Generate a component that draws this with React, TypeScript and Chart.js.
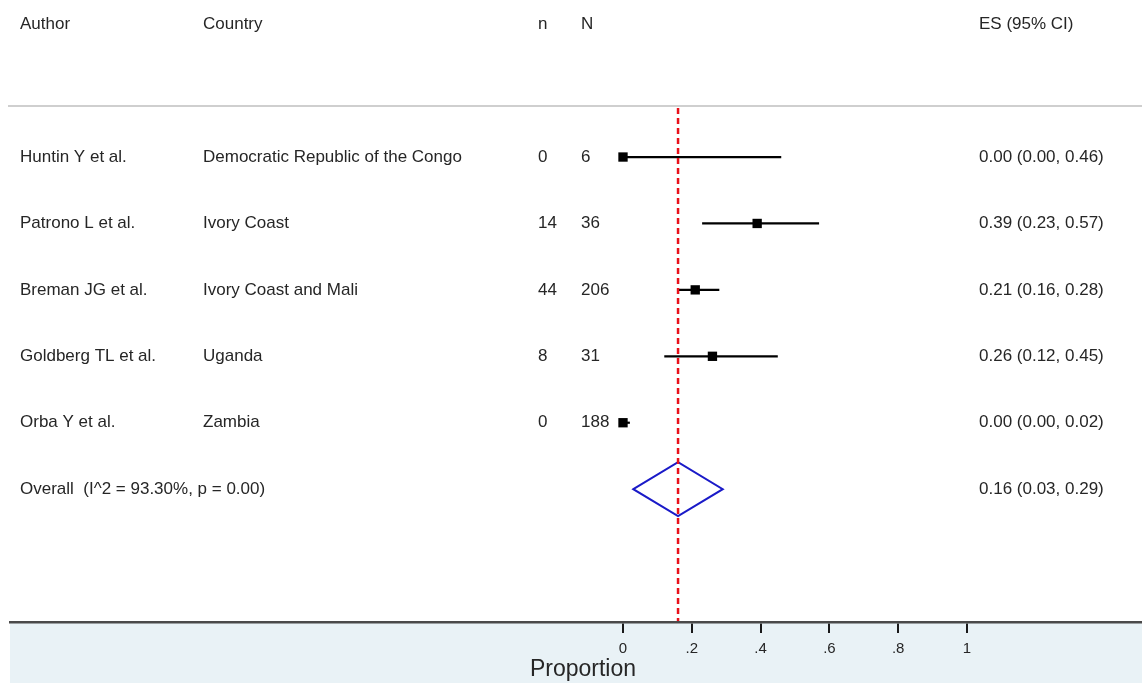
import React, { useEffect, useRef } from "react";
import { Chart, registerables } from "chart.js";

Chart.register(...registerables);

const HEADERS = ["Author", "Country", "n", "N", "ES (95% CI)"];
const AUTHORS = ["Huntin Y et al.", "Patrono L et al.", "Breman JG et al.", "Goldberg TL et al.", "Orba Y et al."];
const COUNTRIES = ["Democratic Republic of the Congo", "Ivory Coast", "Ivory Coast and Mali", "Uganda", "Zambia"];
const EVENTS = [0, 14, 44, 8, 0];
const TOTALS = [6, 36, 206, 31, 188];
const ES = [0.0, 0.39, 0.21, 0.26, 0.0];
const LOWER = [0.0, 0.23, 0.16, 0.12, 0.0];
const UPPER = [0.46, 0.57, 0.28, 0.45, 0.02];
const OVERALL_LABEL = "Overall  (I^2 = 93.30%, p = 0.00)";
const OVERALL_ES = 0.16;
const OVERALL_LOWER = 0.03;
const OVERALL_UPPER = 0.29;
const TICK_VALUES = [0, 0.2, 0.4, 0.6, 0.8, 1];
const TICK_LABELS = ["0", ".2", ".4", ".6", ".8", "1"];
const AXIS_TITLE = "Proportion";

const FONT = '"Liberation Sans", Arial, sans-serif';
const COL_X = [20, 203, 538, 581, 979];
const TEXT_COLOR = "#262626";

const fmt = (v: number) => v.toFixed(2);

const forestPlugin = {
  id: "forest",
  beforeDraw(chart: any) {
    const { ctx, chartArea, width, height } = chart;
    ctx.save();
    ctx.fillStyle = "#e9f2f6";
    ctx.fillRect(chartArea.left, chartArea.bottom, width - chartArea.left, height - chartArea.bottom);
    ctx.restore();
  },
  beforeDatasetsDraw(chart: any) {
    const { ctx, scales, chartArea } = chart;
    const xs = scales.x;
    const ys = scales.y;
    ctx.save();
    // top separator line
    const sepY = ys.getPixelForValue(0.232);
    ctx.strokeStyle = "#cfcfcf";
    ctx.lineWidth = 2;
    ctx.beginPath();
    ctx.moveTo(8, sepY);
    ctx.lineTo(chart.width, sepY);
    ctx.stroke();

    // confidence intervals
    ctx.strokeStyle = "#000";
    ctx.lineWidth = 2.2;
    for (let i = 0; i < ES.length; i++) {
      const y = ys.getPixelForValue(i + 1);
      ctx.beginPath();
      ctx.moveTo(xs.getPixelForValue(LOWER[i]), y);
      ctx.lineTo(xs.getPixelForValue(UPPER[i]), y);
      ctx.stroke();
    }

    // overall diamond
    const oy = ys.getPixelForValue(ES.length + 1);
    const half = 27;
    ctx.strokeStyle = "#1a1ac8";
    ctx.lineWidth = 2;
    ctx.beginPath();
    ctx.moveTo(xs.getPixelForValue(OVERALL_LOWER), oy);
    ctx.lineTo(xs.getPixelForValue(OVERALL_ES), oy - half);
    ctx.lineTo(xs.getPixelForValue(OVERALL_UPPER), oy);
    ctx.lineTo(xs.getPixelForValue(OVERALL_ES), oy + half);
    ctx.closePath();
    ctx.stroke();

    // dashed overall line
    const ox = xs.getPixelForValue(OVERALL_ES);
    ctx.strokeStyle = "#e8101a";
    ctx.lineWidth = 2.5;
    ctx.setLineDash([6, 4]);
    ctx.beginPath();
    ctx.moveTo(ox, sepY + 2);
    ctx.lineTo(ox, chartArea.bottom - 1);
    ctx.stroke();
    ctx.setLineDash([]);

    // texts
    ctx.fillStyle = TEXT_COLOR;
    ctx.font = "17px " + FONT;
    ctx.textBaseline = "middle";
    ctx.textAlign = "left";
    const hy = ys.getPixelForValue(-1);
    HEADERS.forEach((h, j) => ctx.fillText(h, COL_X[j], hy));
    for (let i = 0; i < ES.length; i++) {
      const y = ys.getPixelForValue(i + 1);
      ctx.fillText(AUTHORS[i], COL_X[0], y);
      ctx.fillText(COUNTRIES[i], COL_X[1], y);
      ctx.fillText(String(EVENTS[i]), COL_X[2], y);
      ctx.fillText(String(TOTALS[i]), COL_X[3], y);
      ctx.fillText(`${fmt(ES[i])} (${fmt(LOWER[i])}, ${fmt(UPPER[i])})`, COL_X[4], y);
    }
    ctx.fillText(OVERALL_LABEL, COL_X[0], oy);
    ctx.fillText(`${fmt(OVERALL_ES)} (${fmt(OVERALL_LOWER)}, ${fmt(OVERALL_UPPER)})`, COL_X[4], oy);
    ctx.restore();
  },
  afterDraw(chart: any) {
    const { ctx } = chart;
    ctx.save();
    ctx.fillStyle = TEXT_COLOR;
    ctx.font = "23px " + FONT;
    ctx.textAlign = "center";
    ctx.textBaseline = "middle";
    ctx.fillText(AXIS_TITLE, 583, 670);
    ctx.restore();
  },
};

export default function App() {
  const ref = useRef<HTMLCanvasElement | null>(null);
  useEffect(() => {
    if (!ref.current) return;
    const chart = new Chart(ref.current, {
      type: "scatter",
      data: {
        datasets: [
          {
            data: ES.map((v, i) => ({ x: v, y: i + 1 })),
            pointStyle: "rect",
            radius: 6.6,
            backgroundColor: "#000",
            borderColor: "#000",
            borderWidth: 0,
          },
        ],
      },
      options: {
        responsive: false,
        animation: false,
        layout: { autoPadding: false, padding: { left: 10, right: 0, top: 0, bottom: 0 } },
        plugins: { legend: { display: false }, tooltip: { enabled: false } },
        scales: {
          x: {
            type: "linear",
            min: (10 - 623) / 344,
            max: (1142 - 623) / 344,
            afterBuildTicks: (scale: any) => {
              scale.ticks = TICK_VALUES.map((v) => ({ value: v }));
            },
            afterFit: (scale: any) => {
              scale.height = 61;
            },
            grid: {
              display: true,
              drawOnChartArea: false,
              drawTicks: true,
              tickLength: 11,
              color: "#1a1a1a",
              lineWidth: 2,
            },
            border: { display: true, color: "#4a4a4a", width: 2.5 },
            ticks: {
              autoSkip: false,
              maxRotation: 0,
              padding: 7,
              color: TEXT_COLOR,
              font: { family: FONT, size: 15 },
              callback: (v: any) => {
                const idx = TICK_VALUES.findIndex((t) => Math.abs(t - Number(v)) < 1e-9);
                return idx >= 0 ? TICK_LABELS[idx] : "";
              },
            },
            title: { display: false },
          },
          y: {
            type: "linear",
            reverse: true,
            min: -1.364,
            max: 8,
            display: false,
          },
        },
      },
      plugins: [forestPlugin],
    });
    return () => chart.destroy();
  }, []);
  return (
    <div style={{ position: "absolute", left: 0, top: 0 }}>
      <canvas ref={ref} width={1142} height={683} style={{ display: "block", width: 1142, height: 683 }} />
    </div>
  );
}
